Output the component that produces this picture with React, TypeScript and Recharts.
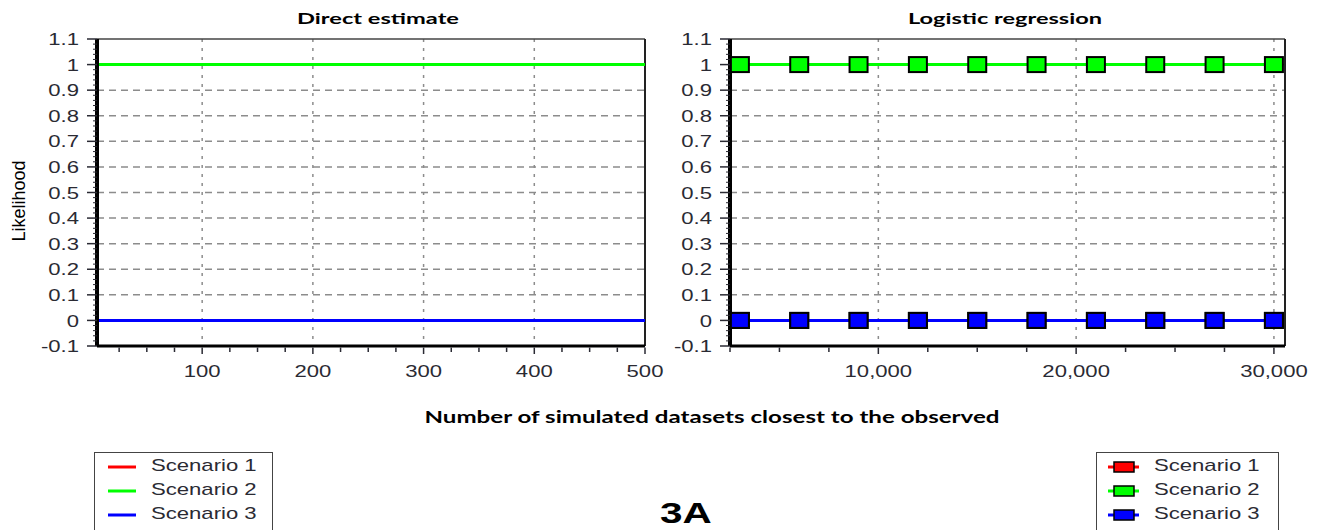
import {
  CartesianGrid,
  Legend,
  Line,
  LineChart,
  ReferenceLine,
  XAxis,
  YAxis,
} from "recharts";

const SCENARIO_NAMES = ["Scenario 1", "Scenario 2", "Scenario 3"];
const SCENARIO_COLORS = ["#ff0000", "#00ff00", "#0000ff"];

// Direct estimate: likelihood vs number of closest simulated datasets
const directCounts = [5, 50, 100, 150, 200, 250, 300, 350, 400, 450, 500];
const directScenario1 = [0, 0, 0, 0, 0, 0, 0, 0, 0, 0, 0];
const directScenario2 = [1, 1, 1, 1, 1, 1, 1, 1, 1, 1, 1];
const directScenario3 = [0, 0, 0, 0, 0, 0, 0, 0, 0, 0, 0];

// Logistic regression
const logisticCounts = [3000, 6000, 9000, 12000, 15000, 18000, 21000, 24000, 27000, 30000];
const logisticScenario1 = [0, 0, 0, 0, 0, 0, 0, 0, 0, 0];
const logisticScenario2 = [1, 1, 1, 1, 1, 1, 1, 1, 1, 1];
const logisticScenario3 = [0, 0, 0, 0, 0, 0, 0, 0, 0, 0];

const yMajorTicks = [-0.1, 0, 0.1, 0.2, 0.3, 0.4, 0.5, 0.6, 0.7, 0.8, 0.9, 1, 1.1];
const yGridValues = [0, 0.1, 0.2, 0.3, 0.4, 0.5, 0.6, 0.7, 0.8, 0.9, 1];
const directMajorTicks = [100, 200, 300, 400, 500];
const directMinorTicks = [25, 50, 75, 125, 150, 175, 225, 250, 275, 325, 350, 375, 425, 450, 475];
const directGridValues = [100, 200, 300, 400];
const logisticMajorTicks = [10000, 20000, 30000];
const logisticMinorTicks = [2500, 5000, 7500, 12500, 15000, 17500, 22500, 25000, 27500];
const logisticGridValues = [10000, 20000, 30000];

// small marks every 0.02 on the y axes
const yMinorTicks = Array.from({ length: 61 }, (_, i) => Math.round((-0.1 + i * 0.02) * 100) / 100).filter(
  (v) => !yMajorTicks.includes(v)
);

const directData = directCounts.map((n, i) => ({
  n,
  s1: directScenario1[i],
  s2: directScenario2[i],
  s3: directScenario3[i],
}));
const logisticData = logisticCounts.map((n, i) => ({
  n,
  s1: logisticScenario1[i],
  s2: logisticScenario2[i],
  s3: logisticScenario3[i],
}));

// the source figure is stretched sideways, so text is widened to match
const SX = 1.3;
const LABEL_FONT = "'Liberation Sans', Arial, sans-serif";
const TITLE_FONT = "Lato, 'Open Sans', sans-serif";
const INK = "#2a2a33";
const AXIS_Y = 346;
const GRID = "#8c8c8c";

type TickProps = { x?: number; y?: number; payload?: { value: number } };

function makeXTick(majors: number[], fmt: (v: number) => string) {
  return function XTick({ x = 0, payload }: TickProps) {
    const v = payload?.value ?? 0;
    const major = majors.includes(v);
    return (
      <g>
        <line x1={x} x2={x} y1={AXIS_Y + 1.5} y2={AXIS_Y + (major ? 8 : 6)} stroke={INK} strokeWidth={1.5} />
        {major && (
          <text
            transform={`translate(${x} ${AXIS_Y + 31}) scale(${SX} 1)`}
            textAnchor="middle"
            fontFamily={LABEL_FONT}
            fontSize={17}
            fill={INK}
          >
            {fmt(v)}
          </text>
        )}
      </g>
    );
  };
}

function makeYTick(plotLeft: number) {
  return function YTick({ y = 0, payload }: TickProps) {
    const v = payload?.value ?? 0;
    const major = yMajorTicks.includes(v);
    return (
      <g>
        <line
          x1={plotLeft - (major ? 10 : 4)}
          x2={plotLeft}
          y1={y}
          y2={y}
          stroke={INK}
          strokeWidth={major ? 1.5 : 1}
        />
        {major && (
          <text
            transform={`translate(${plotLeft - 18} ${y}) scale(${SX} 1)`}
            dy="0.36em"
            textAnchor="end"
            fontFamily={LABEL_FONT}
            fontSize={17}
            fill={INK}
          >
            {String(v)}
          </text>
        )}
      </g>
    );
  };
}

type LegendEntry = { value?: string; color?: string };

function makeLegend(width: number, withMarkers: boolean) {
  return function LegendBox({ payload }: { payload?: LegendEntry[] }) {
    return (
      <div
        style={{
          position: "relative",
          width,
          height: 84,
          boxSizing: "border-box",
          border: "1.5px solid #444",
          background: "#fff",
        }}
      >
        {(payload ?? []).map((entry, i) => (
          <div key={entry.value} style={{ position: "absolute", left: 0, top: 15 + i * 24 - 1.5, height: 0 }}>
            <svg
              width={44}
              height={14}
              style={{ position: "absolute", left: 8, top: -7, overflow: "visible" }}
            >
              <line
                x1={withMarkers ? 3 : 5}
                x2={withMarkers ? 34 : 33}
                y1={7}
                y2={7}
                stroke={entry.color}
                strokeWidth={3}
              />
              {withMarkers && (
                <rect x={9} y={2} width={20} height={10} fill={entry.color} stroke="#000" strokeWidth={1.5} />
              )}
            </svg>
            <span
              style={{
                position: "absolute",
                left: withMarkers ? 57 : 56,
                top: -11,
                whiteSpace: "nowrap",
                fontFamily: LABEL_FONT,
                fontSize: 17,
                lineHeight: "20px",
                color: INK,
                transform: `scaleX(${SX})`,
                transformOrigin: "left center",
              }}
            >
              {entry.value}
            </span>
          </div>
        ))}
      </div>
    );
  };
}

type DotProps = { cx?: number; cy?: number; index?: number };

function squareDot(fill: string) {
  return (p: DotProps) => {
    if (p.cx == null || p.cy == null) return <g key={p.index} />;
    return (
      <rect
        key={p.index}
        x={p.cx - 9}
        y={p.cy - 7.5}
        width={18}
        height={15}
        fill={fill}
        stroke="#000"
        strokeWidth={2}
      />
    );
  };
}

type PanelProps = {
  left: number;
  width: number;
  margin: { top: number; right: number; bottom: number; left: number };
  data: typeof directData;
  domain: [number, number];
  majors: number[];
  minors: number[];
  gridX: number[];
  fmt: (v: number) => string;
  markers: boolean;
  legendLeft: number;
  legendWidth: number;
};

function Panel(props: PanelProps) {
  const { left, width, margin, data, domain, majors, minors, gridX, fmt, markers } = props;
  const plotLeft = margin.left + 60;
  const xTicks = [...minors, ...majors].sort((a, b) => a - b);
  const yTicks = [...yMinorTicks, ...yMajorTicks].sort((a, b) => a - b);
  return (
    <div style={{ position: "absolute", left, top: 0 }}>
      <LineChart width={width} height={530} data={data} margin={margin}>
        <CartesianGrid
          horizontal
          vertical={false}
          horizontalValues={yGridValues}
          stroke={GRID}
          strokeWidth={1.5}
          strokeDasharray="7 5"
        />
        <CartesianGrid
          horizontal={false}
          vertical
          verticalValues={gridX}
          stroke={GRID}
          strokeWidth={1.5}
          strokeDasharray="3 6"
        />
        <XAxis
          dataKey="n"
          type="number"
          domain={domain}
          allowDataOverflow
          ticks={xTicks}
          interval={0}
          height={40}
          tickLine={false}
          axisLine={{ stroke: "#000", strokeWidth: 3 }}
          tick={makeXTick(majors, fmt)}
        />
        <YAxis
          type="number"
          domain={[-0.1, 1.1]}
          allowDataOverflow
          ticks={yTicks}
          interval={0}
          width={60}
          tickLine={false}
          axisLine={{ stroke: "#000", strokeWidth: 4 }}
          tick={makeYTick(plotLeft)}
        />
        <ReferenceLine y={1.1} stroke="#444" strokeWidth={1.5} />
        <ReferenceLine x={domain[1]} stroke="#222" strokeWidth={2} />
        {["s1", "s2", "s3"].map((key, i) => (
          <Line
            key={key}
            type="linear"
            dataKey={key}
            name={SCENARIO_NAMES[i]}
            stroke={SCENARIO_COLORS[i]}
            strokeWidth={3}
            dot={markers ? squareDot(SCENARIO_COLORS[i]) : false}
            activeDot={false}
            isAnimationActive={false}
          />
        ))}
        <Legend
          layout="vertical"
          align="center"
          verticalAlign="middle"
          wrapperStyle={{ left: props.legendLeft, top: 452, width: props.legendWidth }}
          content={makeLegend(props.legendWidth, markers)}
        />
      </LineChart>
    </div>
  );
}

export default function App() {
  return (
    <div
      style={{
        position: "absolute",
        left: 0,
        top: 0,
        width: 1320,
        height: 530,
        overflow: "hidden",
        background: "#fff",
      }}
    >
      <Panel
        left={0}
        width={700}
        margin={{ top: 39, right: 55, bottom: 144, left: 37 }}
        data={directData}
        domain={[5, 500]}
        majors={directMajorTicks}
        minors={directMinorTicks}
        gridX={directGridValues}
        fmt={(v) => String(v)}
        markers={false}
        legendLeft={94}
        legendWidth={179}
      />
      <Panel
        left={640}
        width={680}
        margin={{ top: 39, right: 35, bottom: 144, left: 30 }}
        data={logisticData}
        domain={[2500, 30560]}
        majors={logisticMajorTicks}
        minors={logisticMinorTicks}
        gridX={logisticGridValues}
        fmt={(v) => v.toLocaleString("en-US")}
        markers
        legendLeft={456}
        legendWidth={183}
      />
      <svg
        width={1320}
        height={530}
        style={{ position: "absolute", left: 0, top: 0, pointerEvents: "none" }}
      >
        <text
          x={378}
          y={24}
          textAnchor="middle"
          fontFamily={TITLE_FONT}
          fontWeight={700}
          fontSize={16}
          textLength={162}
          lengthAdjust="spacingAndGlyphs"
          fill="#000"
        >
          Direct estimate
        </text>
        <text
          x={1005}
          y={24}
          textAnchor="middle"
          fontFamily={TITLE_FONT}
          fontWeight={700}
          fontSize={16}
          textLength={194}
          lengthAdjust="spacingAndGlyphs"
          fill="#000"
        >
          Logistic regression
        </text>
        <text
          x={712}
          y={423}
          textAnchor="middle"
          fontFamily={TITLE_FONT}
          fontWeight={700}
          fontSize={17}
          textLength={575}
          lengthAdjust="spacingAndGlyphs"
          fill="#000"
        >
          Number of simulated datasets closest to the observed
        </text>
        <text
          transform="translate(25 201) rotate(-90)"
          textAnchor="middle"
          fontFamily={LABEL_FONT}
          fontSize={18}
          fill="#000"
        >
          Likelihood
        </text>
        <text
          transform="translate(660 523) scale(1.35 1)"
          fontFamily={LABEL_FONT}
          fontWeight={700}
          fontSize={30}
          fill="#000"
        >
          3A
        </text>
      </svg>
    </div>
  );
}
